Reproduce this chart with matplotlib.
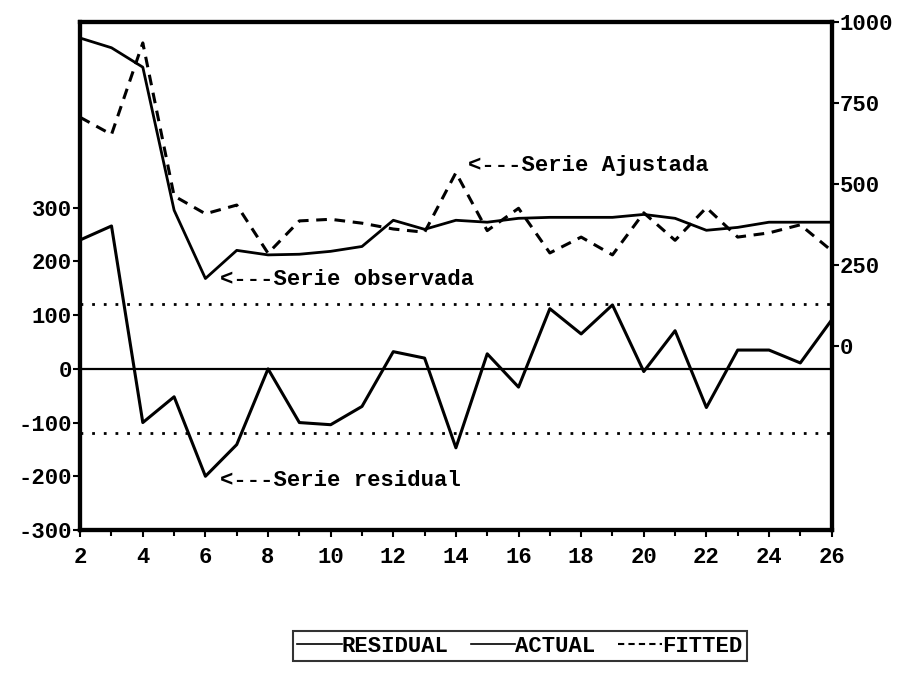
import matplotlib
matplotlib.use("Agg")
import matplotlib.pyplot as plt
from matplotlib.lines import Line2D

plt.rcParams['font.family'] = ['Liberation Mono', 'DejaVu Sans Mono']
plt.rcParams['font.weight'] = 'bold'

# observaciones 2..26
obs = list(range(2, 27))
residual = [240, 266, -100, -52, -200, -141, 0, -100, -104, -70, 32, 20, -147,
            28, -34, 112, 65, 119, -5, 71, -72, 35, 35, 11, 91]
actual = [950, 920, 860, 418, 207, 294, 280, 282, 291, 306, 387, 359, 387,
          381, 393, 396, 396, 396, 405, 393, 356, 365, 381, 381, 381]
fitted = [705, 652, 935, 462, 407, 434, 285, 385, 390, 378, 360, 350, 534,
          355, 424, 286, 335, 280, 410, 325, 426, 335, 348, 373, 293]
banda = 120   # +/- 1 error estandar

fig = plt.figure(figsize=(9.01, 6.73), dpi=100)
ax = fig.add_axes([0.089, 0.2125, 0.834, 0.755])
ax2 = ax.twinx()

ax.plot(obs, residual, color='black', lw=2.2)
ax.axhline(0, color='black', lw=1.6)
ax.axhline(banda, color='black', lw=2, ls=(0, (1, 3.2)))
ax.axhline(-banda, color='black', lw=2, ls=(0, (1, 3.2)))

ax2.plot(obs, actual, color='black', lw=2)
ax2.plot(obs, fitted, color='black', lw=2.2, ls=(0, (3.5, 2.5)))

ax.set_xlim(2, 26)
ax.set_ylim(-300, 646)
ax2.set_ylim(-570, 1000)

ax.set_xticks(range(2, 27, 2))
ax.set_xticks(range(3, 27, 2), minor=True)
ax.set_yticks([-300, -200, -100, 0, 100, 200, 300])
ax.set_yticklabels(['-300', '-200', '-100', '0', '100', '200', '300'])
ax2.set_yticks([0, 250, 500, 750, 1000])

ax.tick_params(axis='both', labelsize=16, width=1.5, length=5)
ax.tick_params(axis='x', which='minor', length=4, width=1.5)
ax.tick_params(axis='x', pad=7)
ax2.tick_params(axis='y', labelsize=16, width=1.5, length=5, pad=1)
ax.tick_params(axis='y', pad=1)

for a in (ax, ax2):
    for s in a.spines.values():
        s.set_linewidth(3)

tf = dict(fontsize=16, color='black')
ax.text(6.45, 166, '<---Serie observada', va='center', ha='left', **tf)
ax.text(6.45, -207, '<---Serie residual', va='center', ha='left', **tf)
ax2.text(14.4, 557, '<---Serie Ajustada', va='center', ha='left', **tf)

handles = [Line2D([], [], color='black', lw=1.2),
           Line2D([], [], color='black', lw=1.2),
           Line2D([], [], color='black', lw=1.5, ls=(0, (3, 2)))]
leg = fig.legend(handles, ['RESIDUAL', 'ACTUAL', 'FITTED'], ncol=3,
                 loc='center', bbox_to_anchor=(0.577, 0.04), fontsize=16,
                 frameon=True, fancybox=False, handlelength=2.0,
                 handletextpad=0.0, columnspacing=1.0, borderpad=0.2,
                 borderaxespad=0)
leg.get_frame().set_edgecolor('black')
leg.get_frame().set_linewidth(1.5)

fig.savefig('out.png', dpi=100)
